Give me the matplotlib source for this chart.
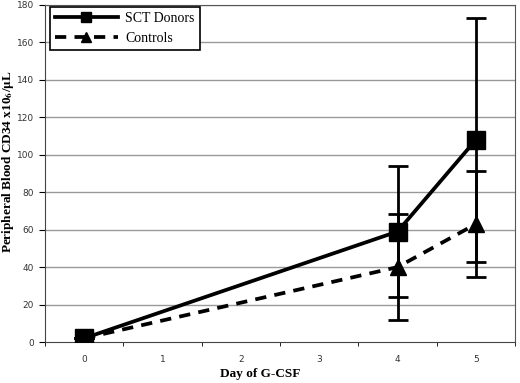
import matplotlib
matplotlib.use("Agg")
import matplotlib.pyplot as plt
from matplotlib.lines import Line2D

days = [0, 4, 5]
day_ticks = [0, 1, 2, 3, 4, 5]
sct_mean = [2, 59, 108]
sct_err = [0, 35, 65]
ctrl_mean = [2, 40, 63]
ctrl_err = [0, 28.5, 28.5]
y_ticks = [0, 20, 40, 60, 80, 100, 120, 140, 160, 180]

plt.rcParams["mathtext.fontset"] = "stix"

fig = plt.figure(figsize=(5.2, 3.83), dpi=100)
ax = fig.add_axes([0.0865, 0.107, 0.904, 0.88])

for y in y_ticks[1:]:
    ax.axhline(y, color="#9a9a9a", lw=1.0, zorder=0)

dash = (0, (3, 2.2))
ax.errorbar(days, sct_mean, yerr=sct_err, color="black", lw=2.7, marker="s",
            markersize=12.5, capsize=7, capthick=2, elinewidth=2, zorder=3)
ax.errorbar(days, ctrl_mean, yerr=ctrl_err, color="black", lw=2.7, ls=dash,
            marker="^", markersize=11, capsize=7, capthick=2, elinewidth=2, zorder=3)

ax.set_xlim(-0.5, 5.5)
ax.set_ylim(0, 180)
ax.set_xticks(day_ticks)
ax.set_xticks([d - 0.5 for d in day_ticks] + [5.5], minor=True)
ax.tick_params(axis="x", which="major", length=0, pad=9, labelsize=6.5, labelcolor="#333333")
ax.tick_params(axis="x", which="minor", length=3, direction="out")
ax.set_yticks(y_ticks)
ax.tick_params(axis="y", length=4, labelsize=6.5, labelcolor="#333333", pad=4)

for s in ["top", "right"]:
    ax.spines[s].set_color("#555555")
ax.spines["left"].set_color("#444444")
ax.spines["bottom"].set_color("#444444")

fig.text(0.5, 1 - 374 / 383, "Day of G-CSF", family="Liberation Serif", weight="bold",
         fontsize=9.5, ha="center", va="center")
fig.text(8 / 520, 1 - 161 / 383, r"Peripheral Blood CD34 x10$_\mathbf{6}$/$\mathbf{\mu}$L",
         family="Liberation Serif", weight="bold", fontsize=9.5, rotation=90,
         ha="center", va="center")

handles = [
    Line2D([], [], color="black", lw=2.7, marker="s", markersize=7),
    Line2D([], [], color="black", lw=2.7, ls=dash, marker="^", markersize=7),
]
leg = ax.legend(handles, ["SCT Donors", "Controls"], loc="upper left",
                bbox_to_anchor=(0.01, 0.994), borderaxespad=0, frameon=True,
                fancybox=False, edgecolor="black", framealpha=1,
                prop={"family": "Liberation Serif", "size": 10},
                handlelength=4.6, handletextpad=0.5, borderpad=0.35, labelspacing=0.5)
leg.get_frame().set_linewidth(1.2)

fig.savefig("out.png", dpi=100)
